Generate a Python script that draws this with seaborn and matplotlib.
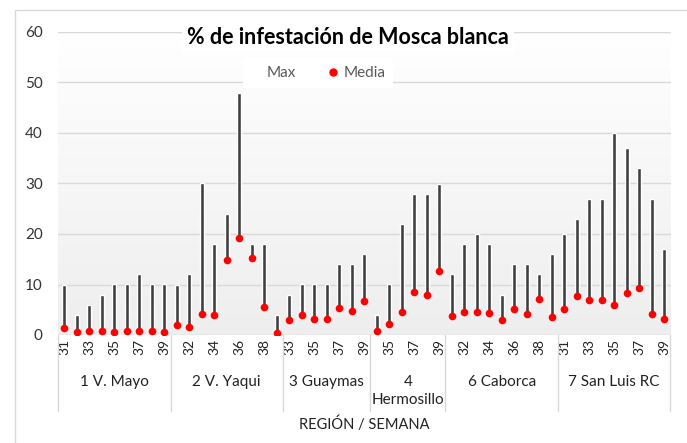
import numpy as np
import pandas as pd
import matplotlib
matplotlib.use("Agg")
import matplotlib.pyplot as plt
from matplotlib.lines import Line2D
from matplotlib.colors import LinearSegmentedColormap
import matplotlib.transforms as mtransforms
import seaborn as sns

# ------------------------------
# Data
# ------------------------------
regiones = ["1 V. Mayo", "2 V. Yaqui", "3 Guaymas", "4\nHermosillo", "6 Caborca", "7 San Luis RC"]

semanas_mayo = [31, 32, 33, 34, 35, 36, 37, 38, 39]
semanas_yaqui = [31, 32, 33, 34, 35, 36, 37, 38, 39]
semanas_guaymas = [33, 34, 35, 36, 37, 38, 39]
semanas_hermosillo = [34, 35, 36, 37, 38, 39]
semanas_caborca = [31, 32, 33, 34, 35, 36, 37, 38, 39]
semanas_sanluis = [31, 32, 33, 34, 35, 36, 37, 38, 39]

max_mayo = [10, 4, 6, 8, 10, 10, 12, 10, 10]
max_yaqui = [10, 12, 30, 18, 24, 48, 18, 18, 4]
max_guaymas = [8, 10, 10, 10, 14, 14, 16]
max_hermosillo = [4, 10, 22, 28, 28, 30]
max_caborca = [12, 18, 20, 18, 8, 14, 14, 12, 16]
max_sanluis = [20, 23, 27, 27, 40, 37, 33, 27, 17]

media_mayo = [1.3, 0.5, 0.7, 0.7, 0.5, 0.7, 0.7, 0.7, 0.6]
media_yaqui = [2.0, 1.6, 4.2, 4.0, 14.9, 19.2, 15.3, 5.6, 0.3]
media_guaymas = [3.0, 4.0, 3.1, 3.1, 5.4, 4.7, 6.8]
media_hermosillo = [0.7, 2.1, 4.5, 8.5, 8.0, 12.6]
media_caborca = [3.8, 4.5, 4.5, 4.3, 3.0, 5.1, 4.2, 7.1, 3.5]
media_sanluis = [5.1, 7.7, 6.9, 6.9, 5.9, 8.4, 9.4, 4.1, 3.2]

semanas = [semanas_mayo, semanas_yaqui, semanas_guaymas, semanas_hermosillo, semanas_caborca, semanas_sanluis]
maximos = [max_mayo, max_yaqui, max_guaymas, max_hermosillo, max_caborca, max_sanluis]
medias = [media_mayo, media_yaqui, media_guaymas, media_hermosillo, media_caborca, media_sanluis]

# build long table
rows = []
for reg, sem, mx, md in zip(regiones, semanas, maximos, medias):
    for s, a, b in zip(sem, mx, md):
        rows.append({"region": reg, "semana": s, "max": a, "media": b})
df = pd.DataFrame(rows)
df["key"] = df["region"] + "-" + df["semana"].astype(str)
df["rango"] = df["max"] - df["media"]

# ------------------------------
# Plot
# ------------------------------
sns.set_style("white")
plt.rcParams["font.family"] = ["Lato", "DejaVu Sans"]

fig = plt.figure(figsize=(6.87, 4.43), dpi=100)
ax = fig.add_axes([58 / 687, 1 - 335 / 443, 612.5 / 687, 303 / 443])

# plot-area gradient like Excel
grad = LinearSegmentedColormap.from_list("g", ["#ffffff", "#eeeeee"])
ax.imshow(np.linspace(0, 1, 256).reshape(-1, 1), extent=[0, 1, 0, 1], transform=ax.transAxes,
          cmap=grad, aspect="auto", zorder=0)

# high-low lines from media to max
sns.barplot(data=df, x="key", y="rango", bottom=df["media"].values, width=0.33,
            color="#404040", saturation=1, errorbar=None, zorder=2, ax=ax)
sns.stripplot(data=df, x="key", y="media", jitter=False, color="#ff0000", size=5.5,
              linewidth=0, zorder=3, ax=ax)

n = len(df)
ax.set_xlim(-0.5, n - 0.5)
ax.set_ylim(0, 60)
ax.set_yticks(range(0, 61, 10))
ax.yaxis.grid(True, color="#d9d9d9", lw=1)
ax.set_axisbelow(True)
for sp in ax.spines.values():
    sp.set_visible(False)

ax.set_xticks(range(n))
ax.set_xticklabels([str(s) if i % 2 == 0 else "" for i, s in enumerate(df["semana"])],
                   rotation=90, fontsize=10, color="#222222")
ax.tick_params(axis="x", length=0, pad=3)
ax.tick_params(axis="y", length=0, pad=11, labelsize=11, labelcolor="#333333")
ax.set_xlabel("")
ax.set_ylabel("")

# group separators and region names
trans = mtransforms.blended_transform_factory(ax.transData, ax.transAxes)
sizes = [len(s) for s in semanas]
edges = np.concatenate([[0], np.cumsum(sizes)]) - 0.5
for e in edges:
    ax.plot([e, e], [0, -0.25], color="#d9d9d9", lw=1, transform=trans, clip_on=False)
for reg, a, b in zip(regiones, edges[:-1], edges[1:]):
    ax.text((a + b) / 2, -0.133, reg, transform=trans, ha="center", va="top",
            fontsize=11, color="#222222", linespacing=1.35)

ax.text(0.5, -0.294, "REGIÓN / SEMANA", transform=ax.transAxes, ha="center", va="center",
        fontsize=10.5, color="#222222")

# title and legend
fig.text(348 / 687, 1 - 37 / 443, "% de infestación de Mosca blanca", ha="center", va="center",
         fontsize=15.5, fontweight="bold", color="#000000",
         bbox=dict(facecolor="white", edgecolor="none", pad=4))

handles = [Line2D([], [], linestyle="none", marker=""),
           Line2D([], [], linestyle="none", marker="o", color="#ff0000", markersize=5)]
leg = ax.legend(handles, ["Max", "Media"], loc="center", bbox_to_anchor=(318 / 687, 1 - 73 / 443),
                bbox_transform=fig.transFigure, ncol=2, frameon=True, facecolor="white",
                edgecolor="none", framealpha=1, fancybox=False, fontsize=11,
                handlelength=0.8, handletextpad=0.3, columnspacing=2.0, borderpad=0.5)
for t in leg.get_texts():
    t.set_color("#595959")

# outer chart border
fig.add_artist(plt.Rectangle((15 / 687, -0.01), 1.0, 1 - 10 / 443 + 0.01, transform=fig.transFigure,
                             fill=False, edgecolor="#d9d9d9", lw=1))

fig.savefig("out.png", dpi=100)
